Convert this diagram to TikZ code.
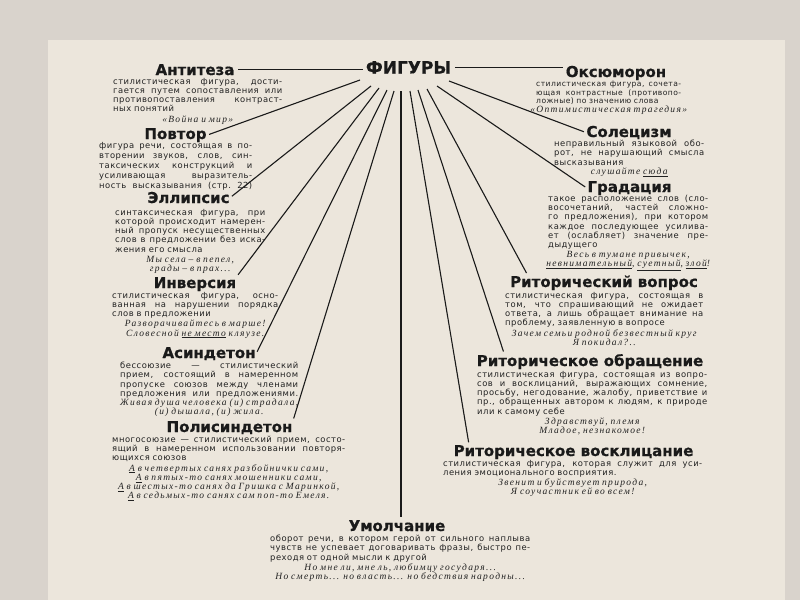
\documentclass[tikz,border=0pt]{standalone}
\usepackage{fontspec}
\setmainfont{DejaVu Sans}
\newfontfamily\hfont[BoldFeatures={FakeBold=0.6}]{DejaVu Sans}
\newfontfamily\bfont[LetterSpace=6]{DejaVu Sans}
\newfontfamily\efont[LetterSpace=14]{Liberation Serif}
\definecolor{outerbg}{HTML}{D9D3CC}
\definecolor{page}{HTML}{ECE6DC}
\definecolor{ink}{HTML}{1A1A1A}
\definecolor{ink2}{HTML}{222222}
\newcommand\J[1]{\makebox[\linewidth][s]{\spaceskip=.3em plus 10em\relax\xspaceskip=\spaceskip #1}}
\newcommand\C[1]{\makebox[\linewidth][c]{\efont\itshape\fontsize{9.5}{9.5}\selectfont #1}}
\tikzset{
  hd/.style={font=\hfont\bfseries\fontsize{15}{15}\selectfont, inner sep=0.5pt, anchor=base, text=ink},
  bd/.style={font=\bfont\fontsize{8.4}{9.2}\selectfont, inner sep=0pt, anchor=north west, text width=#1, align=left, text=ink2},
  conn/.style={draw=ink, line width=1.1pt, shorten >=2pt},
}
\begin{document}
\begin{tikzpicture}[x=1pt,y=-1pt]
\useasboundingbox (0,0) rectangle (800,600);
\fill[outerbg] (0,0) rectangle (800,600);
\fill[page] (48,40) rectangle (785,600);

% headings
\node[hd, font=\hfont\bfseries\fontsize{17}{17}\selectfont] (fig) at (408.5,73.5) {ФИГУРЫ};
\node[hd] (ant) at (195,75) {Антитеза};
\node[hd] (oks) at (616,77) {Оксюморон};
\node[hd] (pov) at (175.5,139) {Повтор};
\node[hd] (ell) at (188.5,203) {Эллипсис};
\node[hd] (inv) at (195,288) {Инверсия};
\node[hd] (asin) at (209,358) {Асиндетон};
\node[hd] (pol) at (229.5,432) {Полисиндетон};
\node[hd] (sol) at (629,137) {Солецизм};
\node[hd] (grad) at (629.5,192) {Градация};
\node[hd] (vop) at (604,287) {Риторический вопрос};
\node[hd] (obr) at (590,366) {Риторическое обращение};
\node[hd] (vos) at (573.5,456) {Риторическое восклицание};
\node[hd] (umol) at (397,531) {Умолчание};

% bodies
\node[bd=169pt] (antb) at (113,78) {\J{стилистическая фигура, дости-}\\\J{гается путем сопоставления или}\\\J{противопоставления контраст-}\\ных понятий\\[1pt]\C{«Война и мир»}};
\node[bd=145pt, font=\bfont\fontsize{7.6}{8.6}\selectfont] (oksb) at (536,81) {\J{стилистическая фигура, сочета-}\\\J{ющая контрастные (противопо-}\\ложные) по значению слова\\\C{«Оптимистическая трагедия»}};
\node[bd=153pt, font=\bfont\fontsize{8.4}{9.8}\selectfont] (povb) at (99,142.5) {\J{фигура речи, состоящая в по-}\\\J{вторении звуков, слов, син-}\\\J{таксических конструкций и}\\\J{усиливающая выразитель-}\\\J{ность высказывания (стр. 22)}};
\node[bd=150pt] (ellb) at (115,209) {\J{синтаксическая фигура, при}\\\J{которой происходит намерен-}\\\J{ный пропуск несущественных}\\\J{слов в предложении без иска-}\\жения его смысла\\[1pt]\C{Мы села – в пепел,}\\\C{грады – в прах...}};
\node[bd=166pt] (invb) at (112,292) {\J{стилистическая фигура, осно-}\\\J{ванная на нарушении порядка}\\слов в предложении\\[1pt]\C{Разворачивайтесь в марше!}\\\C{Словесной \underline{не место} кляузе.}};
\node[bd=178pt] (asinb) at (120,362) {\J{бессоюзие — стилистический}\\\J{прием, состоящий в намеренном}\\\J{пропуске союзов между членами}\\\J{предложения или предложениями.}\\\C{Живая душа человека (и) страдала,}\\\C{(и) дышала, (и) жила.}};
\node[bd=233pt] (polb) at (112,436) {\J{многосоюзие — стилистический прием, состо-}\\\J{ящий в намеренном использовании повторя-}\\ющихся союзов\\[1pt]\C{\underline{А} в четвертых санях разбойнички сами,}\\\C{\underline{А} в пятых-то санях мошенники сами,}\\\C{\underline{А} в шестых-то санях да Гришка с Маринкой,}\\\C{\underline{А} в седьмых-то санях сам поп-то Емеля.}};
\node[bd=150pt] (solb) at (554,140) {\J{неправильный языковой обо-}\\\J{рот, не нарушающий смысла}\\высказывания\\\C{слушайте \underline{сюда}}};
\node[bd=160pt] (gradb) at (548,195) {\J{такое расположение слов (сло-}\\\J{восочетаний, частей сложно-}\\\J{го предложения), при котором}\\\J{каждое последующее усилива-}\\\J{ет (ослабляет) значение пре-}\\дыдущего\\[1pt]\C{Весь в тумане привычек,}\\\C{\underline{невнимательный}, \underline{суетный}, \underline{злой}!}};
\node[bd=198pt] (vopb) at (505,292) {\J{стилистическая фигура, состоящая в}\\\J{том, что спрашивающий не ожидает}\\\J{ответа, а лишь обращает внимание на}\\проблему, заявленную в вопросе\\[1pt]\C{Зачем семьи родной безвестный круг}\\\C{Я покидал?..}};
\node[bd=230pt] (obrb) at (477,371) {\J{стилистическая фигура, состоящая из вопро-}\\\J{сов и восклицаний, выражающих сомнение,}\\\J{просьбу, негодование, жалобу, приветствие и}\\\J{пр., обращенных автором к людям, к природе}\\или к самому себе\\[1pt]\C{Здравствуй, племя}\\\C{Младое, незнакомое!}};
\node[bd=259pt] (vosb) at (443,460) {\J{стилистическая фигура, которая служит для уси-}\\ления эмоционального восприятия.\\[1pt]\C{Звенит и буйствует природа,}\\\C{Я соучастник ей во всем!}};
\node[bd=260pt] (umolb) at (270,535) {\J{оборот речи, в котором герой от сильного наплыва}\\\J{чувств не успевает договаривать фразы, быстро пе-}\\реходя от одной мысли к другой\\[1pt]\C{Но мне ли, мне ль, любимцу государя...}\\\C{Но смерть... но власть... но бедствия народны...}};

% connector start points
\coordinate (s1) at (360,80);
\coordinate (s2) at (371,86);
\coordinate (s3) at (379,88);
\coordinate (s4) at (387,90);
\coordinate (s5) at (394,91);
\coordinate (s6) at (401,91);
\coordinate (s7) at (410,91);
\coordinate (s8) at (418,90);
\coordinate (s9) at (427,89);
\coordinate (s10) at (437,86);
\coordinate (s11) at (449,81);

\draw[conn, shorten <=3pt] (ant.east) -- (fig.west |- ant.east);
\draw[conn, shorten <=3pt] (fig.east) -- (oks.west |- fig.east);
\draw[conn] (s1) -- (pov.east);
\draw[conn] (s2) -- (ell.east);
\draw[conn] (s3) -- (inv.north east);
\draw[conn] (s4) -- (asin.east);
\draw[conn] (s5) -- (pol.north east);
\draw[conn] (s6) -- (s6 |- umol.north);
\draw[conn] (s7) -- ([xshift=16pt]vos.north west);
\draw[conn] (s8) -- ([xshift=28pt]obr.north west);
\draw[conn] (s9) -- ([xshift=18pt]vop.north west);
\draw[conn] (s10) -- (grad.west);
\draw[conn] (s11) -- (sol.west);
\end{tikzpicture}
\end{document}
